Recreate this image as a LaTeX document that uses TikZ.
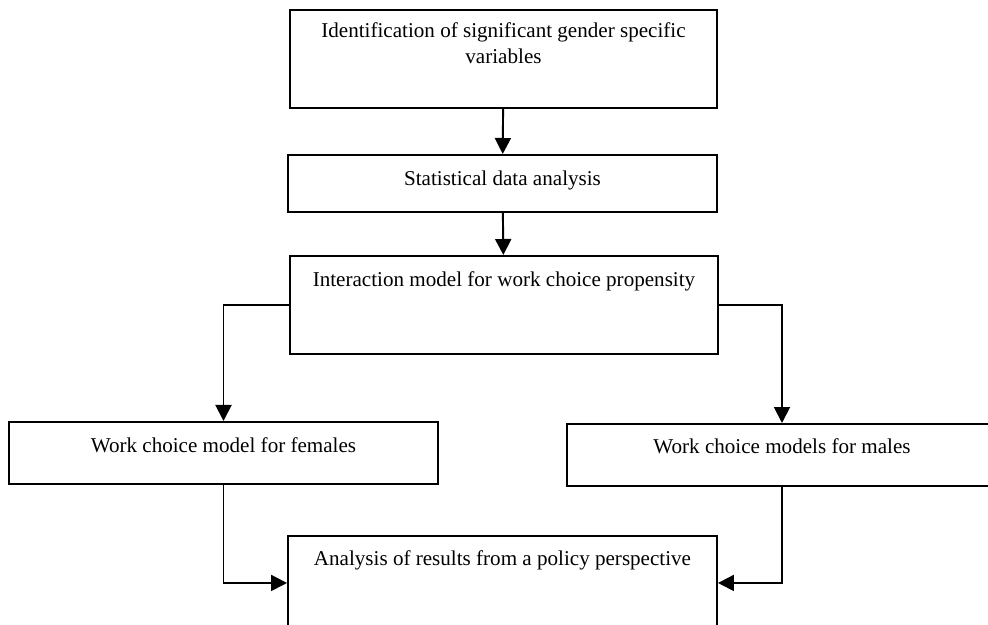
\documentclass[tikz,border=0pt]{standalone}
\usepackage{fontspec}
\setmainfont{Liberation Serif}
\usepackage{tikz}
\usetikzlibrary{positioning,arrows.meta}

\begin{document}
\begin{tikzpicture}[
  bx/.style={draw, line width=1.1pt, minimum width=#1, inner sep=0pt,
             align=center, anchor=north, font=\fontsize{12}{15}\selectfont},
  ar/.style={-{Triangle[length=0.32cm,width=0.32cm]}, line width=1.1pt}
]
\clip (0,0) rectangle (19.76,-12.5);

\node[bx=8.54cm, text height=1.08cm, text depth=0.88cm] (ident) at (10.07,-0.18)
  {Identification of significant gender specific\\variables};
\node[bx=8.58cm, text height=0.62cm, text depth=0.52cm] (stat) at (10.05,-3.08)
  {Statistical data analysis};
\node[bx=8.56cm, text height=0.62cm, text depth=1.34cm] (inter) at (10.08,-5.10)
  {Interaction model for work choice propensity};
\node[bx=8.58cm, text height=0.62cm, text depth=0.62cm] (fem) at (4.47,-8.42)
  {Work choice model for females};
\node[bx=8.60cm, text height=0.60cm, text depth=0.64cm] (male) at (15.64,-8.46)
  {Work choice models for males};
\node[bx=8.58cm, text height=0.60cm, text depth=1.28cm] (anal) at (10.05,-10.70)
  {Analysis of results from a policy perspective};

\draw[ar] (ident) -- (stat);
\draw[ar] (stat) -- (inter);
\draw[ar] (inter.west) -| (fem.north);
\draw[ar] (inter.east) -| (male.north);
\draw[ar] (fem.south) |- (anal.west);
\draw[ar] (male.south) |- (anal.east);
\end{tikzpicture}
\end{document}
